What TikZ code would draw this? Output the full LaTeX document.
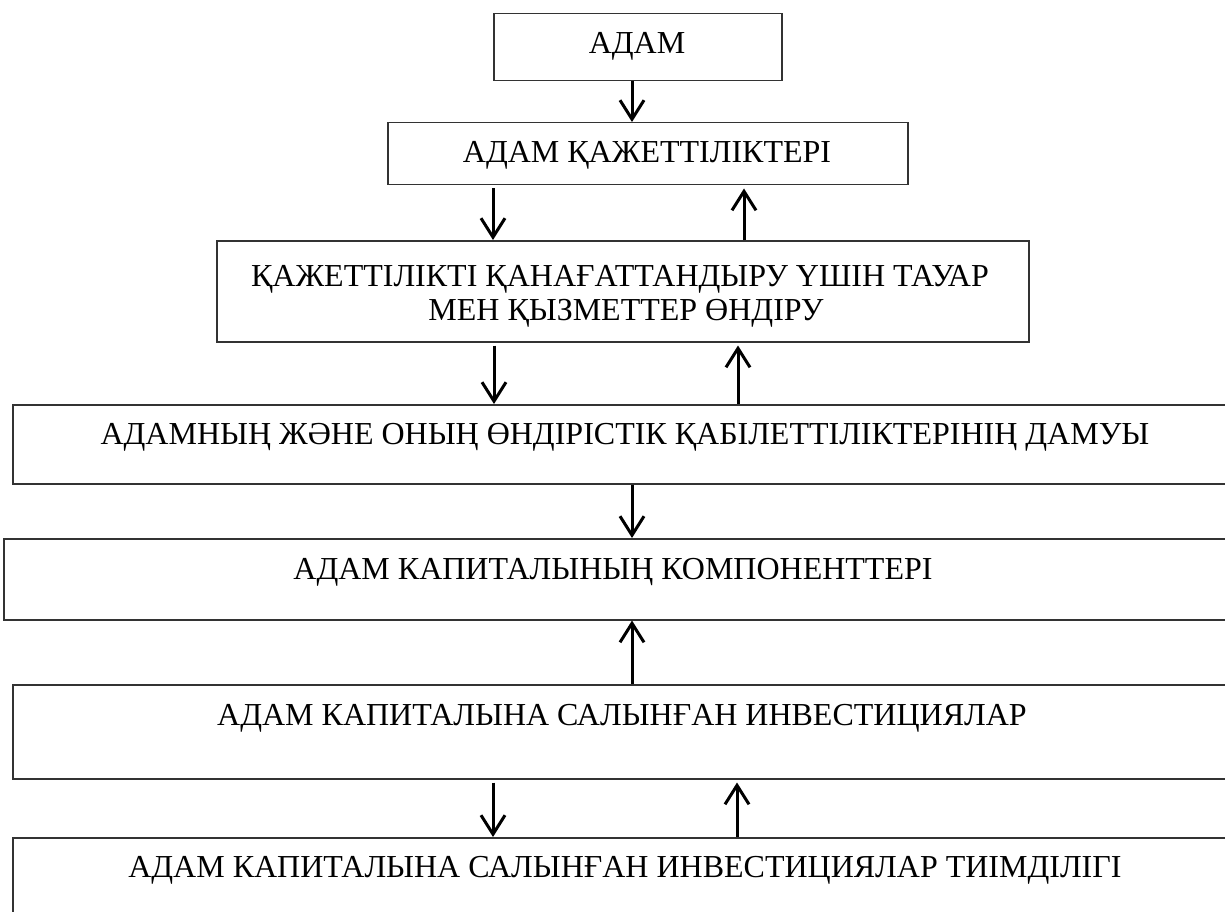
\documentclass[tikz,border=0pt]{standalone}
\usepackage{fontspec}
\setmainfont{Liberation Serif}
\usetikzlibrary{arrows.meta}
\tikzset{
  box/.style={draw=black!80, line width=1.5pt, rectangle, inner sep=0pt, anchor=north west},
  lbl/.style={font=\fontsize{32}{36}\selectfont, inner sep=0pt, anchor=base},
  arr/.style={line width=3pt, -{Straight Barb[length=19pt, width=24pt, line width=3pt]}},
}
\begin{document}
\begin{tikzpicture}[x=1pt, y=-1pt]
\clip (0,0) rectangle (1225,912);
\fill[white] (0,0) rectangle (1225,912);
% boxes
\node[box, minimum width=288pt, minimum height=67pt] (b1) at (493,13) {};
\node[box, minimum width=520pt, minimum height=62pt] (b2) at (387,122) {};
\node[box, minimum width=812pt, minimum height=101pt] (b3) at (216,240) {};
\node[box, minimum width=1240pt, minimum height=79pt] (b4) at (12,404) {};
\node[box, minimum width=1250pt, minimum height=81pt] (b5) at (3,538) {};
\node[box, minimum width=1240pt, minimum height=94pt] (b6) at (12,684) {};
\node[box, minimum width=1240pt, minimum height=120pt] (b7) at (12,837) {};
% labels
\node[lbl] (t1) at (637,54) {АДАМ};
\node[lbl] (t2) at (647,163) {АДАМ ҚАЖЕТТІЛІКТЕРІ};
\node[lbl] (t3a) at (620,286) {ҚАЖЕТТІЛІКТІ ҚАНАҒАТТАНДЫРУ ҮШІН ТАУАР};
\node[lbl] (t3b) at (626,320) {МЕН ҚЫЗМЕТТЕР ӨНДІРУ};
\node[lbl] (t4) at (625,444) {АДАМНЫҢ ЖӘНЕ ОНЫҢ ӨНДІРІСТІК ҚАБІЛЕТТІЛІКТЕРІНІҢ ДАМУЫ};
\node[lbl] (t5) at (613,579) {АДАМ КАПИТАЛЫНЫҢ КОМПОНЕНТТЕРІ};
\node[lbl] (t6) at (622,725) {АДАМ КАПИТАЛЫНА САЛЫНҒАН ИНВЕСТИЦИЯЛАР};
\node[lbl] (t7) at (625,877) {АДАМ КАПИТАЛЫНА САЛЫНҒАН ИНВЕСТИЦИЯЛАР ТИІМДІЛІГІ};
% arrow columns
\coordinate (xa) at (632,0);
\coordinate (xl) at (493,0);
\coordinate (xr) at (744,0);
\coordinate (xl2) at (494,0);
\coordinate (xr2) at (738,0);
\coordinate (xr3) at (737,0);
% arrows
\draw[arr] (b1.south -| xa) -- (b2.north -| xa);
\draw[arr] ([yshift=-3pt]b2.south -| xl) -- (b3.north -| xl);
\draw[arr] (b3.north -| xr) -- ([yshift=-3pt]b2.south -| xr);
\draw[arr] ([yshift=-3pt]b3.south -| xl2) -- (b4.north -| xl2);
\draw[arr] (b4.north -| xr2) -- ([yshift=-3pt]b3.south -| xr2);
\draw[arr] (b4.south -| xa) -- (b5.north -| xa);
\draw[arr] (b6.north -| xa) -- (b5.south -| xa);
\draw[arr] ([yshift=-3pt]b6.south -| xl) -- (b7.north -| xl);
\draw[arr] (b7.north -| xr3) -- ([yshift=-3pt]b6.south -| xr3);
\end{tikzpicture}
\end{document}
